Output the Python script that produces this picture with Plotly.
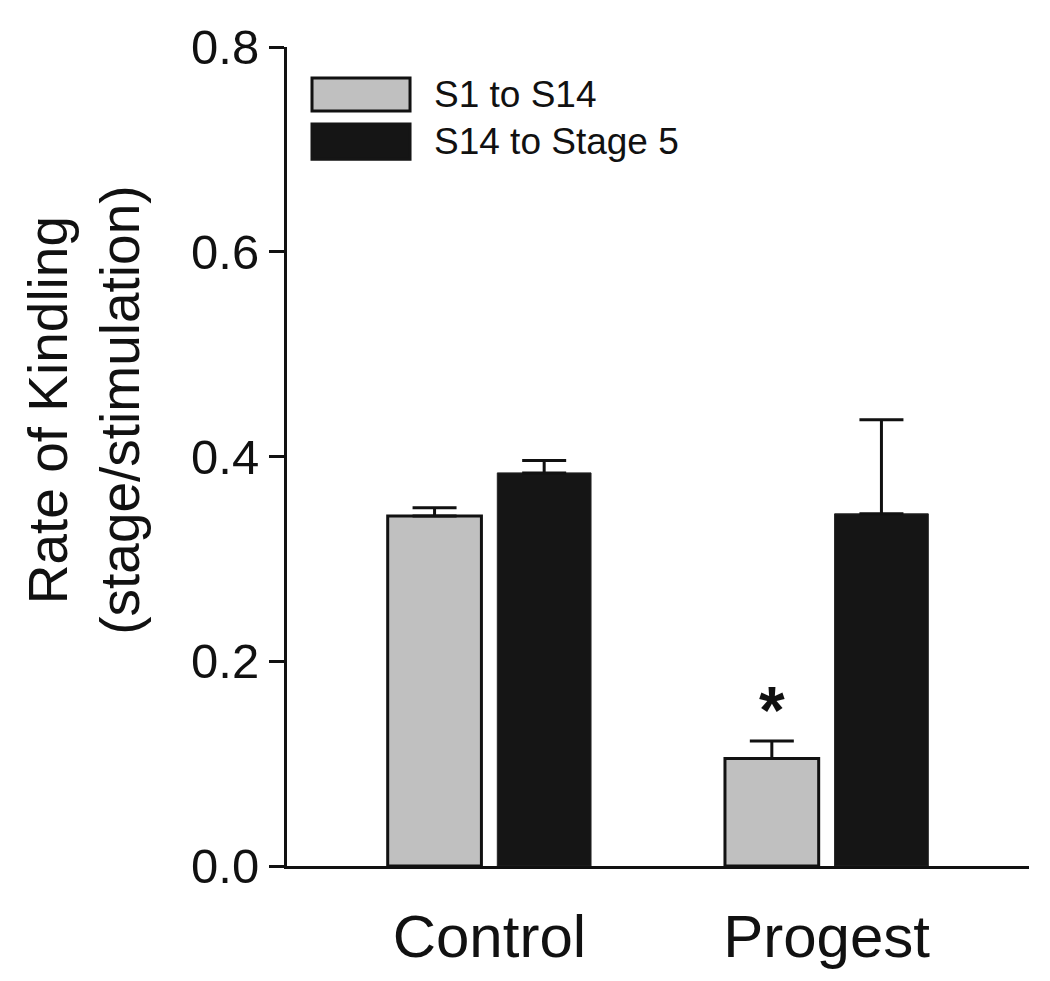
import plotly.graph_objects as go

categories = ["Control", "Progest"]
series_names = ["S1 to S14", "S14 to Stage 5"]
s1_values = [0.342, 0.105]
s1_errors = [0.008, 0.017]
s2_values = [0.384, 0.344]
s2_errors = [0.012, 0.092]
y_ticks = [0.0, 0.2, 0.4, 0.6, 0.8]

GRAY = "#c0c0c0"
BLACK = "#151515"
FONT = "Liberation Sans, Arial, Helvetica, sans-serif"

x_pos = list(range(len(categories)))

fig = go.Figure()
fig.add_trace(go.Bar(
    x=x_pos, y=s1_values, name=series_names[0],
    marker=dict(color=GRAY, line=dict(color="#111111", width=3)),
    error_y=dict(type="data", array=s1_errors, symmetric=False, arrayminus=[0, 0],
                 color="#111111", thickness=3, width=22),
))
fig.add_trace(go.Bar(
    x=x_pos, y=s2_values, name=series_names[1],
    marker=dict(color=BLACK, line=dict(color="#222222", width=1)),
    error_y=dict(type="data", array=s2_errors, symmetric=False, arrayminus=[0, 0],
                 color="#111111", thickness=3, width=22),
))

fig.update_layout(
    width=1050, height=981,
    margin=dict(l=279, r=29, t=39, b=123, autoexpand=False),
    paper_bgcolor="white", plot_bgcolor="white",
    barmode="group", bargap=0.35, bargroupgap=0.145,
    showlegend=False,
    font=dict(family=FONT, color="#111111"),
)
fig.update_xaxes(
    range=[-0.6, 1.6], tickvals=x_pos, ticktext=categories,
    showline=True, linecolor="#111111", linewidth=3,
    ticks="", showgrid=False, zeroline=False,
    tickfont=dict(size=60, family=FONT, color="#111111"),
    ticklabelstandoff=16,
)
fig.update_yaxes(
    range=[0, 0.8], tickvals=y_ticks, ticktext=[f"{v:.1f}" for v in y_ticks],
    showline=True, linecolor="#111111", linewidth=3,
    ticks="outside", ticklen=15, tickwidth=3, tickcolor="#111111",
    showgrid=False, zeroline=False,
    tickfont=dict(size=49, family=FONT, color="#111111"),
)

# Y axis title (two lines)
fig.add_annotation(
    xref="paper", yref="paper", x=-0.2736, y=0.557,
    text="Rate of Kindling<br>(stage/stimulation)", showarrow=False,
    textangle=-90, xanchor="center", yanchor="middle",
    font=dict(size=55, family=FONT, color="#111111"),
)

# Significance asterisk
fig.add_annotation(
    x=x_pos[1] - 0.1625, y=0.152, xref="x", yref="y",
    text="<b>*</b>", showarrow=False, xanchor="center", yanchor="middle",
    font=dict(size=66, family=FONT, color="#111111"),
)

# Custom legend
legend_rows = [(series_names[0], GRAY, "#111111", 0.962, 0.922),
               (series_names[1], BLACK, "#151515", 0.906, 0.863)]
for name, fill, edge, y1, y0 in legend_rows:
    fig.add_shape(type="rect", xref="paper", yref="paper",
                  x0=0.0337, x1=0.1658, y0=y0, y1=y1,
                  fillcolor=fill, line=dict(color=edge, width=3))
    fig.add_annotation(xref="paper", yref="paper", x=0.195, y=(y0 + y1) / 2,
                       text=name, showarrow=False, xanchor="left", yanchor="middle",
                       font=dict(size=37, family=FONT, color="#111111"))

fig.write_html("out.html")
